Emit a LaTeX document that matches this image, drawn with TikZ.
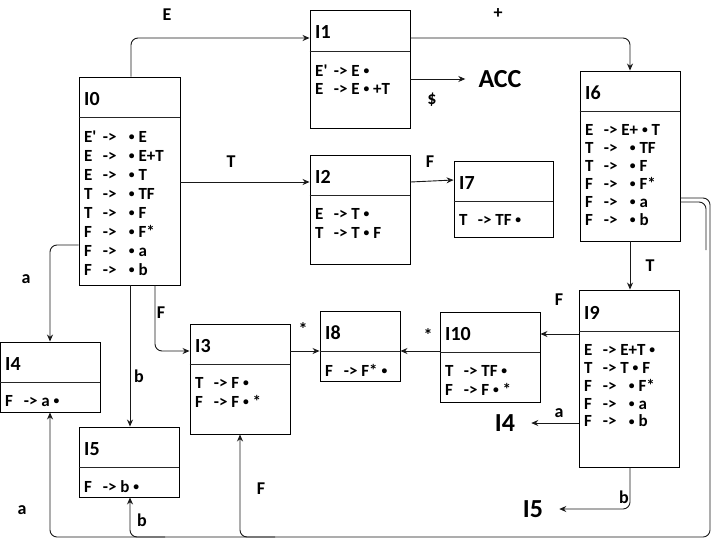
\documentclass[tikz,border=0pt]{standalone}
\usepackage{fontspec}
\setmainfont{Carlito}
\usetikzlibrary{arrows.meta}

% one LR(0) item: left side in a fixed box, then the arrow and the right side
\newcommand\pr[2]{\makebox[1.1em][l]{#1}->\ #2}
\newcommand\dotm{\raisebox{1.9pt}{\scalebox{0.68}{\textbullet}}}
\newcommand\Ep{E\textquotesingle}

% a state box: name, x1, y1, x2, y2, divider y, title, items, line spacing
\newcommand\lrstate[9]{%
  \node[stbox, minimum width={(#4)-(#2)}, minimum height={(#5)-(#3)}]
    (#1) at ({((#2)+(#4))/2},{((#3)+(#5))/2}) {};
  \draw[divline] (#1.west |- 0,#6) -- (#1.east |- 0,#6);
  \node[ttl] (#1-t) at ({(#2)+5},{((#3)+(#6))/2+2}) {#7};
  \node[itm, font=\bfseries\fontsize{17}{#9}\selectfont] (#1-b)
    at ({(#2)+5},{(#6)+13.5}) {#8};
}

\begin{document}
\begin{tikzpicture}[x=1pt,y=-1pt,
  stbox/.style={draw=black, line width=0.9pt, inner sep=0pt},
  divline/.style={line width=0.9pt, black!85},
  ttl/.style={anchor=west, inner sep=0pt, font=\bfseries\fontsize{20}{21}\selectfont},
  itm/.style={anchor=north west, inner sep=0pt, align=left},
  lbl/.style={inner sep=0pt, font=\bfseries\fontsize{18}{18}\selectfont},
  big/.style={inner sep=2pt, font=\bfseries\fontsize{26}{26}\selectfont},
  edge/.style={line width=0.9pt, black!90},
  arr/.style={edge, -{Stealth[length=7pt,width=6pt]}},
  rc/.style={rounded corners=7pt}]
\useasboundingbox (0,0) rectangle (719,546);
\fill[white] (0,0) rectangle (719,546);

% states
\lrstate{I0}{79}{77}{180}{285}{117}{I0}{%
  \pr{\Ep}{\enspace\dotm\ E}\\
  \pr{E}{\enspace\dotm\ E+T}\\
  \pr{E}{\enspace\dotm\ T}\\
  \pr{T}{\enspace\dotm\ TF}\\
  \pr{T}{\enspace\dotm\ F}\\
  \pr{F}{\enspace\dotm\ F*}\\
  \pr{F}{\enspace\dotm\ a}\\
  \pr{F}{\enspace\dotm\ b}}{19}
\lrstate{I1}{310}{10}{410}{128}{51}{I1}{%
  \pr{\Ep}{E \dotm}\\
  \pr{E}{E \dotm\ +T}}{18}
\lrstate{I2}{310}{155}{410}{264}{195}{I2}{%
  \pr{E}{T \dotm}\\
  \pr{T}{T \dotm\ F}}{19}
\lrstate{I7}{454}{161}{553}{237}{201}{I7}{%
  \pr{T}{TF \dotm}}{18}
\lrstate{I6}{580}{71}{680}{241}{111}{I6}{%
  \pr{E}{E+ \dotm\ T}\\
  \pr{T}{\enspace\dotm\ TF}\\
  \pr{T}{\enspace\dotm\ F}\\
  \pr{F}{\enspace\dotm\ F*}\\
  \pr{F}{\enspace\dotm\ a}\\
  \pr{F}{\enspace\dotm\ b}}{18}
\lrstate{I3}{190}{324}{290}{434}{364}{I3}{%
  \pr{T}{F \dotm}\\
  \pr{F}{F \dotm\ *}}{19}
\lrstate{I8}{320}{311}{400}{381}{351}{I8}{%
  \pr{F}{F* \dotm}}{18}
\lrstate{I10}{440}{312}{540}{402}{352}{I10}{%
  \pr{T}{TF \dotm}\\
  \pr{F}{F \dotm\ *}}{19}
\lrstate{I9}{579}{290}{679}{467}{331}{I9}{%
  \pr{E}{E+T \dotm}\\
  \pr{T}{T \dotm\ F}\\
  \pr{F}{\enspace\dotm\ F*}\\
  \pr{F}{\enspace\dotm\ a}\\
  \pr{F}{\enspace\dotm\ b}}{17.8}
\lrstate{I4}{0}{342}{100}{412}{382}{I4}{%
  \pr{F}{a \dotm}}{18}
\lrstate{I5}{79}{427}{179}{497}{467}{I5}{%
  \pr{F}{b \dotm}}{18}

% targets written as text only
\node[big] (ACC) at (500,79) {ACC};
\node[big] (I4r) at (505,423) {I4};
\node[big] (I5r) at (533,509) {I5};

% transitions
\draw[arr, rc] (I0.north -| 131,0) |- (I1.west |- 0,38);
\draw[arr, rc] (I1.east |- 0,38) -| (I6.north -| 630,0);
\draw[arr, shorten >=11pt] (I1.east |- ACC) -- (ACC.west);
\draw[arr] (I0.east |- 0,182) -- (I2.west |- 0,182);
\draw[arr] (I2.east |- 0,182) -- (I7.west |- 0,180);
\draw[arr, rc] (I0.west |- 0,245) -| (I4.north -| 50,0);
\draw[arr] (I0.south -| 130,0) -- (I5.north -| 130,0);
\draw[arr, rc] (I0.south -| 155,0) |- (I3.west |- 0,351);
\draw[arr] (I6.south -| 630,0) -- (I9.north -| 630,0);
\draw[arr] (I9.west |- 0,334) -- (I10.east |- 0,334);
\draw[arr] (I10.west |- 0,351) -- (I8.east |- 0,351);
\draw[arr] (I3.east |- 0,351) -- (I8.west |- 0,351);
\draw[arr, shorten >=14pt] (I9.west |- I4r) -- (I4r.east);
\draw[arr, rc, shorten >=14pt] (I9.south -| 630,0) |- (I5r.east);

% long way round from I6 back to I4, I5 and I3
\coordinate (bI5) at (165,537);
\coordinate (bI3) at (275,537);
\draw[arr, rc] (I6.east |- 0,198) -| (710,537) -| (I4.south -| 50,0);
\draw[edge, rc] (I6.east |- 0,202) -| (706,250);
\draw[arr, rc] (bI5) -| (I5.south -| 130,0);
\draw[arr, rc] (bI3) -| (I3.south -| 240,0);

% transition symbols
\node[lbl] (lE)  at (167,15)  {E};
\node[lbl] (lp)  at (498,14)  {+};
\node[lbl] (ld)  at (432,100) {\$};
\node[lbl] (lT)  at (231,162) {T};
\node[lbl] (lF1) at (430,162) {F};
\node[lbl] (la1) at (26,279)  {a};
\node[lbl] (lF2) at (161,313) {F};
\node[lbl] (lb1) at (139,376) {b};
\node[lbl] (lT2) at (650,266) {T};
\node[lbl] (lF3) at (559,300) {F};
\node[lbl] (ls1) at (303,329) {*};
\node[lbl] (ls2) at (428,335) {*};
\node[lbl] (la2) at (559,413) {a};
\node[lbl] (lb2) at (624,497) {b};
\node[lbl] (la3) at (22,510)  {a};
\node[lbl] (lb3) at (142,520) {b};
\node[lbl] (lF4) at (261,489) {F};
\end{tikzpicture}
\end{document}
